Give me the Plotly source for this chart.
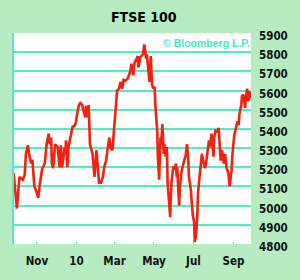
import plotly.graph_objects as go

dates = [
    "2009-09-25", "2009-09-26", "2009-10-01", "2009-10-05", "2009-10-10", "2009-10-13",
    "2009-10-15", "2009-10-18", "2009-10-20", "2009-10-23", "2009-10-25", "2009-10-28",
    "2009-10-30", "2009-11-03", "2009-11-05", "2009-11-09", "2009-11-13", "2009-11-14",
    "2009-11-16", "2009-11-19", "2009-11-21", "2009-11-23", "2009-11-24", "2009-11-26",
    "2009-11-29", "2009-12-03", "2009-12-06", "2009-12-08", "2009-12-10", "2009-12-14",
    "2009-12-15", "2009-12-16", "2009-12-18", "2009-12-20", "2009-12-22", "2009-12-26",
    "2009-12-29", "2009-12-31", "2010-01-02", "2010-01-05", "2010-01-07", "2010-01-10",
    "2010-01-12", "2010-01-15", "2010-01-16", "2010-01-18", "2010-01-20", "2010-01-21",
    "2010-01-22", "2010-01-26", "2010-01-27", "2010-01-29", "2010-02-01", "2010-02-02",
    "2010-02-05", "2010-02-08", "2010-02-11", "2010-02-13", "2010-02-16", "2010-02-18",
    "2010-02-21", "2010-02-23", "2010-02-26", "2010-02-28", "2010-03-03", "2010-03-05",
    "2010-03-08", "2010-03-10", "2010-03-13", "2010-03-15", "2010-03-17", "2010-03-21",
    "2010-03-25", "2010-03-27", "2010-03-30", "2010-04-01", "2010-04-04", "2010-04-06",
    "2010-04-07", "2010-04-10", "2010-04-14", "2010-04-16", "2010-04-19", "2010-04-20",
    "2010-04-22", "2010-04-24", "2010-04-26", "2010-04-28", "2010-04-30", "2010-05-02",
    "2010-05-03", "2010-05-06", "2010-05-07", "2010-05-09", "2010-05-11", "2010-05-12",
    "2010-05-14", "2010-05-16", "2010-05-17", "2010-05-19", "2010-05-21", "2010-05-22",
    "2010-05-24", "2010-05-26", "2010-05-28", "2010-05-31", "2010-06-02", "2010-06-04",
    "2010-06-05", "2010-06-06", "2010-06-07", "2010-06-09", "2010-06-10", "2010-06-13",
    "2010-06-17", "2010-06-19", "2010-06-21", "2010-06-23", "2010-06-24", "2010-06-27",
    "2010-06-28", "2010-06-30", "2010-07-02", "2010-07-03", "2010-07-05", "2010-07-07",
    "2010-07-08", "2010-07-10", "2010-07-12", "2010-07-14", "2010-07-17", "2010-07-19",
    "2010-07-21", "2010-07-23", "2010-07-25", "2010-07-26", "2010-07-29", "2010-08-01",
    "2010-08-02", "2010-08-04", "2010-08-07", "2010-08-09", "2010-08-11", "2010-08-12",
    "2010-08-14", "2010-08-17", "2010-08-19", "2010-08-21", "2010-08-24", "2010-08-26",
    "2010-08-29", "2010-08-30", "2010-09-02", "2010-09-04", "2010-09-07", "2010-09-09",
    "2010-09-10", "2010-09-13", "2010-09-14", "2010-09-16", "2010-09-19", "2010-09-20",
    "2010-09-22", "2010-09-24", "2010-09-26", "2010-09-28",
]

ftse = [
    5085, 5170, 4985, 5150, 5135, 5160,
    5270, 5315, 5270, 5220, 5240, 5100,
    5085, 5040, 5100, 5190, 5220, 5270,
    5320, 5375, 5320, 5355, 5220, 5195,
    5320, 5305, 5200, 5315, 5200, 5305,
    5270, 5340, 5200, 5310, 5350, 5410,
    5415, 5430, 5475, 5525, 5535, 5525,
    5495, 5460, 5520, 5460, 5525, 5440,
    5320, 5270, 5220, 5150, 5290, 5235,
    5120, 5120, 5150, 5200, 5235, 5290,
    5355, 5300, 5290, 5390, 5545, 5600,
    5610, 5645, 5610, 5655, 5650, 5660,
    5695, 5740, 5680, 5745, 5765, 5780,
    5720, 5775, 5790, 5840, 5765, 5790,
    5715, 5645, 5780, 5630, 5610, 5620,
    5525, 5390, 5255, 5135, 5355, 5320,
    5425, 5270, 5320, 5255, 5305, 5120,
    5035, 4940, 5120, 5205, 5190, 5220,
    5150, 5200, 5120, 5000, 5100, 5185,
    5240, 5260, 5320, 5245, 5150, 5085,
    5035, 4950, 4915, 4810, 4845, 4950,
    5065, 5135, 5170, 5270, 5220, 5195,
    5235, 5305, 5340, 5305, 5375, 5255,
    5355, 5390, 5385, 5405, 5320, 5235,
    5290, 5220, 5270, 5200, 5170, 5100,
    5185, 5255, 5365, 5390, 5440, 5420,
    5475, 5525, 5570, 5580, 5510, 5560,
    5610, 5545, 5595, 5560,
]

x_tick_dates = ["2009-11-01", "2010-01-01", "2010-03-01", "2010-05-01", "2010-07-01", "2010-09-01"]
x_tick_labels = ["Nov", "10", "Mar", "May", "Jul", "Sep"]
y_ticks = [4800, 4900, 5000, 5100, 5200, 5300, 5400, 5500, 5600, 5700, 5800, 5900]
title_text = "FTSE 100"
credit_text = "© Bloomberg L.P."

BG = "#b6ecbf"
GRID = "#50ecc6"
LINE = "#f5200e"
COND = "DejaVu Sans Condensed, sans-serif"
TICKFONT = dict(family=COND, size=11.5, color="#111111", weight="bold")

fig = go.Figure()
fig.add_trace(go.Scatter(
    x=dates, y=ftse, mode="lines",
    line=dict(color=LINE, width=2.6),
    hoverinfo="skip",
))

fig.update_layout(
    width=300, height=280,
    margin=dict(l=13, r=39, t=33, b=31),
    paper_bgcolor=BG, plot_bgcolor="#ffffff",
    showlegend=False,
    xaxis=dict(
        type="date",
        range=["2009-09-25", "2010-09-28"],
        tickvals=x_tick_dates, ticktext=x_tick_labels,
        showgrid=False, zeroline=False,
        ticks="inside", ticklen=2, tickcolor=GRID, tickwidth=1,
        tickfont=TICKFONT, ticklabelstandoff=8,
        fixedrange=True,
    ),
    yaxis=dict(
        range=[4800, 5900], side="right",
        tickvals=y_ticks, ticktext=[str(v) for v in y_ticks],
        showgrid=True, gridcolor=GRID, gridwidth=1.7,
        zeroline=False, ticks="",
        tickfont=TICKFONT, ticklabelstandoff=7, ticklabelshift=3,
        fixedrange=True,
    ),
    shapes=[
        dict(type="line", xref="paper", yref="paper", x0=0, x1=0, y0=0, y1=1,
             line=dict(color=GRID, width=2), layer="above"),
    ],
    annotations=[
        dict(text=title_text, xref="paper", x=150 / 300 * 300 / 248 - 13 / 248, yref="paper", y=1,
             xanchor="center", yanchor="bottom", showarrow=False, yshift=6,
             font=dict(family=COND, size=14, color="#000000", weight="bold")),
        dict(text=credit_text, xref="paper", yref="paper", x=1, y=1,
             xanchor="right", yanchor="top", showarrow=False, xshift=1, yshift=-2,
             font=dict(family="Liberation Sans, Arial, sans-serif", size=10.5,
                       color="#3fe8c8", weight="bold")),
    ],
)

fig.write_html("out.html", config={"displayModeBar": False})
